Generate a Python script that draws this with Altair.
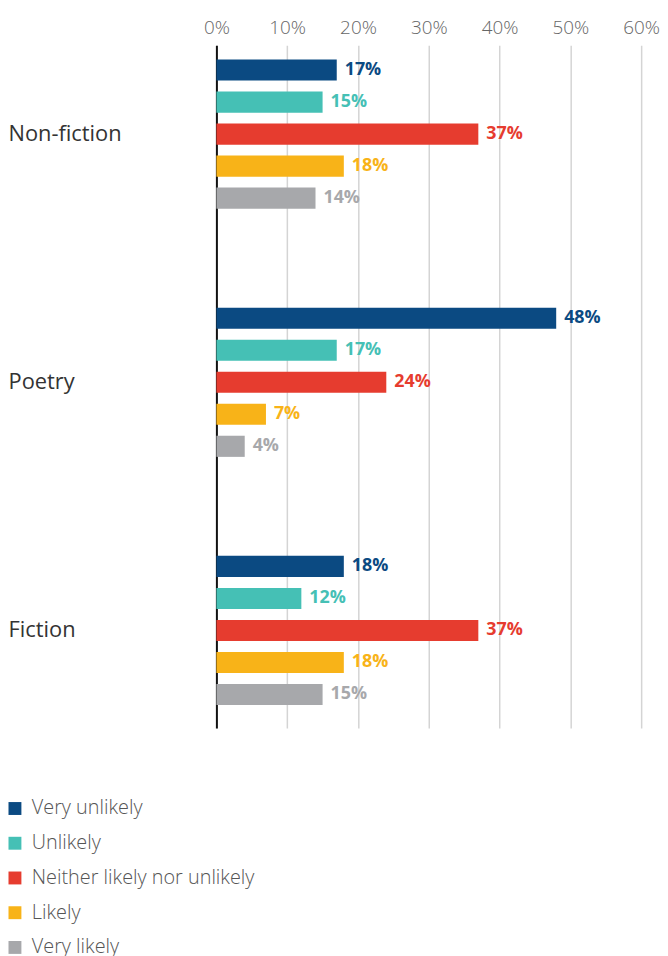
import altair as alt
import pandas as pd

categories = ["Non-fiction", "Poetry", "Fiction"]
responses = ["Very unlikely", "Unlikely", "Neither likely nor unlikely", "Likely", "Very likely"]
colors = ["#0b4a82", "#45c0b5", "#e63c2f", "#f8b318", "#a7a8ab"]
nonfiction = [17, 15, 37, 18, 14]
poetry = [48, 17, 24, 7, 4]
fiction = [18, 12, 37, 18, 15]
x_ticks = [0, 10, 20, 30, 40, 50, 60]

rows = []
for cat, vals in zip(categories, [nonfiction, poetry, fiction]):
    for r, v in zip(responses, vals):
        rows.append({"category": cat, "response": r, "value": v, "label": f"{v}%"})
df = pd.DataFrame(rows)

FONT = "Open Sans"

y = alt.Y(
    "category:N", sort=categories, title=None,
    scale=alt.Scale(paddingInner=0.355, paddingOuter=0.053, align=0.33),
    axis=alt.Axis(
        labelAlign="left", labelPadding=210, ticks=False, tickSize=0, grid=False,
        domainColor="#111111", domainWidth=2, labelFontSize=22, labelColor="#333333",
        labelFont=FONT, labelFontWeight=400,
    ),
)
yoff = alt.YOffset("response:N", sort=responses,
                   scale=alt.Scale(paddingInner=0.34, paddingOuter=0.17))
x = alt.X(
    "value:Q", title=None, scale=alt.Scale(domain=[0, 60]),
    axis=alt.Axis(
        orient="top", values=x_ticks, labelExpr="datum.value + '%'",
        domain=False, ticks=False, tickSize=0, labelPadding=8, labelFlush=False,
        grid=True, gridColor="#d4d4d4", gridWidth=1.5,
        labelFontSize=19, labelColor="#666666", labelFont=FONT, labelFontWeight=300,
    ),
)
color_scale = alt.Scale(domain=responses, range=colors)

bars = alt.Chart(df).mark_bar().encode(
    x=x, y=y, yOffset=yoff,
    color=alt.Color(
        "response:N", scale=color_scale, sort=responses,
        legend=alt.Legend(
            title=None, orient="none", legendX=-213, legendY=759,
            symbolType="square", symbolSize=169, symbolStrokeWidth=0,
            labelFontSize=20, labelColor="#555555", labelFont=FONT, labelFontWeight=300,
            labelOffset=7, rowPadding=15, direction="vertical", labelLimit=400,
        ),
    ),
)

text = alt.Chart(df).mark_text(
    align="left", baseline="middle", dx=8, fontSize=18, fontWeight="bold", font=FONT
).encode(
    x="value:Q", y=alt.Y("category:N", sort=categories), yOffset=yoff,
    text="label:N",
    color=alt.Color("response:N", scale=color_scale, legend=None),
)

chart = (
    alt.layer(bars, text)
    .properties(
        width=428, height=688,
        autosize=alt.AutoSizeParams(type="none"),
        padding={"left": 210, "top": 34, "right": 19, "bottom": 229},
    )
    .configure_view(stroke=None)
)

chart.save("out.html", embed_options={"renderer": "svg", "actions": False})
